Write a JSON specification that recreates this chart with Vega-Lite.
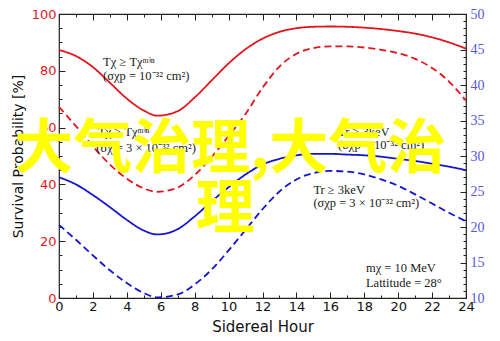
{
  "$schema": "https://vega.github.io/schema/vega-lite/v6.json",
  "width": 407,
  "height": 284,
  "autosize": {"type": "none"},
  "padding": {"left": 59, "top": 14, "right": 34, "bottom": 43},
  "config": {
    "view": {"stroke": "#222", "strokeWidth": 1.2},
    "axis": {"grid": false, "domain": false, "tickColor": "#222", "tickWidth": 1}
  },
  "datasets": {
    "red": [
      {"h": 0, "s": "solid", "v": 87.3}, {"h": 1, "s": "solid", "v": 85.2}, {"h": 2, "s": "solid", "v": 81.3},
      {"h": 3, "s": "solid", "v": 75.8}, {"h": 4, "s": "solid", "v": 70.2}, {"h": 5, "s": "solid", "v": 66.0},
      {"h": 5.8, "s": "solid", "v": 64.2}, {"h": 7, "s": "solid", "v": 65.8}, {"h": 8, "s": "solid", "v": 70.6},
      {"h": 9, "s": "solid", "v": 76.6}, {"h": 10, "s": "solid", "v": 82.6}, {"h": 11, "s": "solid", "v": 87.6},
      {"h": 12, "s": "solid", "v": 91.3}, {"h": 13, "s": "solid", "v": 93.7}, {"h": 14, "s": "solid", "v": 95.0},
      {"h": 15, "s": "solid", "v": 95.5}, {"h": 16, "s": "solid", "v": 95.6}, {"h": 17, "s": "solid", "v": 95.5},
      {"h": 18, "s": "solid", "v": 95.2}, {"h": 19, "s": "solid", "v": 94.7}, {"h": 20, "s": "solid", "v": 94.0},
      {"h": 21, "s": "solid", "v": 93.1}, {"h": 22, "s": "solid", "v": 91.8}, {"h": 23, "s": "solid", "v": 90.0},
      {"h": 24, "s": "solid", "v": 87.8},
      {"h": 0, "s": "dashed", "v": 67.3}, {"h": 1, "s": "dashed", "v": 60.5}, {"h": 2, "s": "dashed", "v": 53.4},
      {"h": 3, "s": "dashed", "v": 47.0}, {"h": 4, "s": "dashed", "v": 42.0}, {"h": 5, "s": "dashed", "v": 38.6},
      {"h": 5.8, "s": "dashed", "v": 37.4}, {"h": 7, "s": "dashed", "v": 38.9}, {"h": 8, "s": "dashed", "v": 43.3},
      {"h": 9, "s": "dashed", "v": 49.7}, {"h": 10, "s": "dashed", "v": 57.0}, {"h": 11, "s": "dashed", "v": 64.8},
      {"h": 12, "s": "dashed", "v": 74.0}, {"h": 13, "s": "dashed", "v": 81.5}, {"h": 14, "s": "dashed", "v": 86.0},
      {"h": 15, "s": "dashed", "v": 88.0}, {"h": 16, "s": "dashed", "v": 88.6}, {"h": 17, "s": "dashed", "v": 88.6},
      {"h": 18, "s": "dashed", "v": 88.2}, {"h": 19, "s": "dashed", "v": 87.4}, {"h": 20, "s": "dashed", "v": 86.2},
      {"h": 21, "s": "dashed", "v": 84.2}, {"h": 22, "s": "dashed", "v": 81.0}, {"h": 23, "s": "dashed", "v": 76.2},
      {"h": 24, "s": "dashed", "v": 69.5}
    ],
    "blue": [
      {"h": 0, "s": "solid", "v": 27.0}, {"h": 1, "s": "solid", "v": 26.0}, {"h": 2, "s": "solid", "v": 24.5},
      {"h": 3, "s": "solid", "v": 22.8}, {"h": 4, "s": "solid", "v": 21.0}, {"h": 5, "s": "solid", "v": 19.5},
      {"h": 5.8, "s": "solid", "v": 18.95}, {"h": 7, "s": "solid", "v": 19.7}, {"h": 8, "s": "solid", "v": 21.5},
      {"h": 9, "s": "solid", "v": 23.6}, {"h": 10, "s": "solid", "v": 25.6}, {"h": 11, "s": "solid", "v": 27.4},
      {"h": 12, "s": "solid", "v": 28.8}, {"h": 13, "s": "solid", "v": 29.6}, {"h": 14, "s": "solid", "v": 30.1},
      {"h": 15, "s": "solid", "v": 30.3}, {"h": 16, "s": "solid", "v": 30.3}, {"h": 17, "s": "solid", "v": 30.2},
      {"h": 18, "s": "solid", "v": 30.1}, {"h": 19, "s": "solid", "v": 29.9}, {"h": 20, "s": "solid", "v": 29.6},
      {"h": 21, "s": "solid", "v": 29.3}, {"h": 22, "s": "solid", "v": 28.9}, {"h": 23, "s": "solid", "v": 28.5},
      {"h": 24, "s": "solid", "v": 28.0},
      {"h": 0, "s": "dashed", "v": 20.3}, {"h": 1, "s": "dashed", "v": 18.2}, {"h": 2, "s": "dashed", "v": 16.0},
      {"h": 3, "s": "dashed", "v": 13.9}, {"h": 4, "s": "dashed", "v": 12.1}, {"h": 5, "s": "dashed", "v": 10.7},
      {"h": 5.8, "s": "dashed", "v": 10.1}, {"h": 7, "s": "dashed", "v": 10.5}, {"h": 8, "s": "dashed", "v": 11.9},
      {"h": 9, "s": "dashed", "v": 14.0}, {"h": 10, "s": "dashed", "v": 16.7}, {"h": 11, "s": "dashed", "v": 19.6},
      {"h": 12, "s": "dashed", "v": 22.5}, {"h": 13, "s": "dashed", "v": 25.0}, {"h": 14, "s": "dashed", "v": 26.7},
      {"h": 15, "s": "dashed", "v": 27.6}, {"h": 16, "s": "dashed", "v": 27.9}, {"h": 17, "s": "dashed", "v": 27.8},
      {"h": 18, "s": "dashed", "v": 27.4}, {"h": 19, "s": "dashed", "v": 26.7}, {"h": 20, "s": "dashed", "v": 25.8},
      {"h": 21, "s": "dashed", "v": 24.6}, {"h": 22, "s": "dashed", "v": 23.3}, {"h": 23, "s": "dashed", "v": 22.0},
      {"h": 24, "s": "dashed", "v": 20.8}
    ],
    "notes": [
      {"h": 2.6, "v": 83.2, "t": "Tχ ≥ Tχᵐⁱⁿ"},
      {"h": 2.6, "v": 78.3, "t": "(σχp = 10⁻³² cm²)"},
      {"h": 2.3, "v": 58.5, "t": "Tχ ≥ Tχᵐⁱⁿ"},
      {"h": 2.2, "v": 52.8, "t": "(σχ = 3 × 10⁻³² cm²)"},
      {"h": 16.45, "v": 58.5, "t": "Tr ≥ 3keV"},
      {"h": 16.45, "v": 53.9, "t": "(σχp = 10⁻³² cm²)"},
      {"h": 15.0, "v": 38.0, "t": "Tr ≥ 3keV"},
      {"h": 15.0, "v": 33.3, "t": "(σχp = 3 × 10⁻³² cm²)"},
      {"h": 18.1, "v": 10.6, "t": "mχ = 10 MeV"},
      {"h": 18.1, "v": 5.3, "t": "Lattitude = 28°"}
    ],
    "mark": [
      {"h": 10.1, "v": 30.8, "t": "大气治理,大气治"},
      {"h": 9.8, "v": 22.4, "t": "理"}
    ]
  },
  "layer": [
    {
      "data": {"name": "red"},
      "mark": {"type": "line", "color": "#e0151d", "strokeWidth": 1.8, "interpolate": "monotone"},
      "encoding": {
        "x": {
          "field": "h", "type": "quantitative",
          "scale": {"domain": [0, 24], "nice": false},
          "axis": {
            "orient": "bottom", "values": [0, 2, 4, 6, 8, 10, 12, 14, 16, 18, 20, 22, 24],
            "tickSize": -6, "labelPadding": 8, "labelFont": "DejaVu Sans", "labelFontSize": 13,
            "labelColor": "#111", "labelFlush": false, "title": "Sidereal Hour", "titleFont": "DejaVu Sans",
            "titleFontSize": 15, "titleFontWeight": "normal", "titleColor": "#111", "titlePadding": 6
          }
        },
        "y": {
          "field": "v", "type": "quantitative",
          "scale": {"domain": [0, 100], "nice": false},
          "axis": {
            "orient": "left", "values": [0, 20, 40, 60, 80, 100],
            "tickSize": -6, "labelPadding": 9, "labelFont": "DejaVu Sans", "labelFontSize": 13,
            "labelColor": "#e41a1c", "labelFlush": false, "title": "Survival Probability [%]",
            "titleFont": "DejaVu Sans", "titleFontSize": 14, "titleFontWeight": "normal",
            "titleColor": "#111", "titlePadding": 6
          }
        },
        "strokeDash": {
          "field": "s", "type": "nominal",
          "scale": {"domain": ["solid", "dashed"], "range": [[1, 0], [7, 4]]},
          "legend": null
        }
      }
    },
    {
      "data": {"name": "blue"},
      "mark": {"type": "line", "color": "#1515cc", "strokeWidth": 1.8, "interpolate": "monotone"},
      "encoding": {
        "x": {
          "field": "h", "type": "quantitative",
          "scale": {"domain": [0, 24], "nice": false},
          "axis": {
            "orient": "top", "values": [0, 2, 4, 6, 8, 10, 12, 14, 16, 18, 20, 22, 24],
            "tickSize": -6, "labels": false, "title": null
          }
        },
        "y": {
          "field": "v", "type": "quantitative",
          "scale": {"domain": [10, 50], "nice": false},
          "axis": {
            "orient": "right", "values": [10, 15, 20, 25, 30, 35, 40, 45, 50],
            "tickSize": -6, "labelPadding": 10, "labelFont": "Liberation Serif", "labelFontSize": 14,
            "labelColor": "#5757d8", "labelFlush": false, "title": null
          }
        },
        "strokeDash": {
          "field": "s", "type": "nominal",
          "scale": {"domain": ["solid", "dashed"], "range": [[1, 0], [7, 4]]},
          "legend": null
        }
      }
    },
    {
      "data": {"name": "notes"},
      "mark": {"type": "text", "align": "left", "baseline": "middle", "font": "Liberation Serif", "fontSize": 12.5, "color": "#222"},
      "encoding": {
        "x": {
          "field": "h", "type": "quantitative",
          "scale": {"domain": [0, 24], "nice": false},
          "axis": {
            "orient": "bottom", "values": [1, 3, 5, 7, 9, 11, 13, 15, 17, 19, 21, 23],
            "tickSize": -3, "labels": false, "title": null
          }
        },
        "y": {
          "field": "v", "type": "quantitative",
          "scale": {"domain": [0, 100], "nice": false},
          "axis": {
            "orient": "left", "values": [5, 10, 15, 25, 30, 35, 45, 50, 55, 65, 70, 75, 85, 90, 95],
            "tickSize": -3, "labels": false, "title": null
          }
        },
        "text": {"field": "t"}
      }
    },
    {
      "data": {"name": "mark"},
      "mark": {"type": "text", "align": "center", "baseline": "middle", "font": "Noto Sans CJK SC", "fontWeight": "bold", "fontSize": 59, "color": "#ffff00"},
      "encoding": {
        "x": {
          "field": "h", "type": "quantitative",
          "scale": {"domain": [0, 24], "nice": false},
          "axis": {
            "orient": "top", "values": [1, 3, 5, 7, 9, 11, 13, 15, 17, 19, 21, 23],
            "tickSize": -3, "labels": false, "title": null
          }
        },
        "y": {
          "field": "v", "type": "quantitative",
          "scale": {"domain": [10, 50], "nice": false},
          "axis": {
            "orient": "right",
            "values": [11, 12, 13, 14, 16, 17, 18, 19, 21, 22, 23, 24, 26, 27, 28, 29, 31, 32, 33, 34, 36, 37, 38, 39, 41, 42, 43, 44, 46, 47, 48, 49],
            "tickSize": -3, "labels": false, "title": null
          }
        },
        "text": {"field": "t"}
      }
    }
  ],
  "resolve": {
    "scale": {"y": "independent"},
    "axis": {"x": "independent", "y": "independent"}
  }
}
